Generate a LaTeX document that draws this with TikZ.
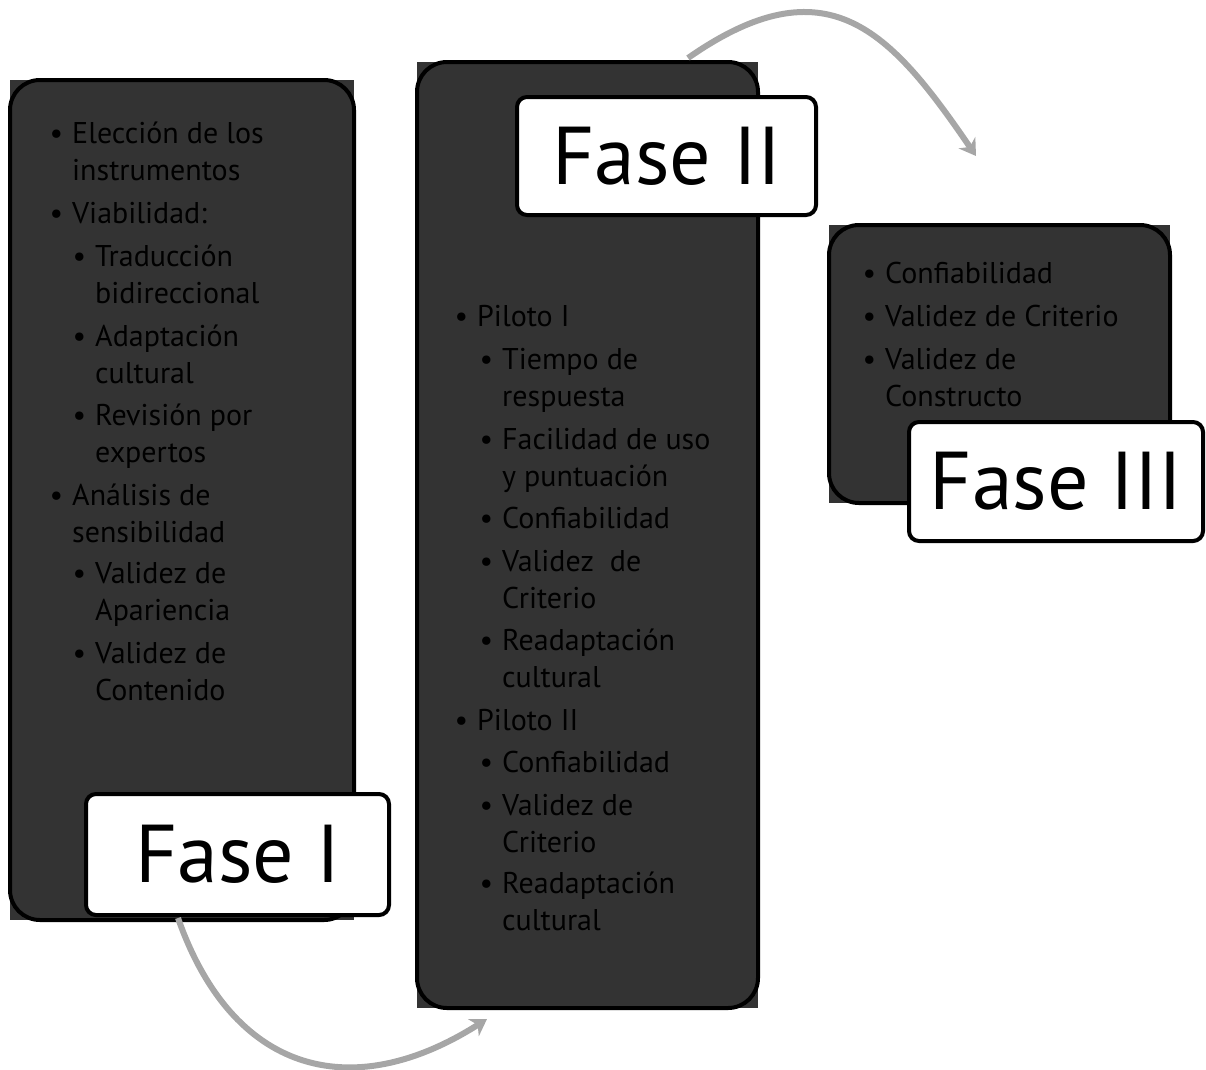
\documentclass[tikz,border=0pt]{standalone}
\usepackage{fontspec}
\setmainfont{PT Sans}
\usetikzlibrary{arrows.meta}
\definecolor{boxgray}{HTML}{333333}
\definecolor{arrowgray}{HTML}{A6A6A6}
\newcommand{\bul}{\llap{\textbullet\hspace{9pt}}}
\begin{document}
\begin{tikzpicture}[x=1pt,y=-1pt,
  phasebox/.style={draw=black, line width=4pt, fill=boxgray, rounded corners=30pt, inner sep=0pt},
  labelbox/.style={draw=black, line width=4pt, fill=white, rounded corners=10pt, inner sep=0pt,
    font=\fontsize{82}{82}\selectfont, text=black},
  item/.style={anchor=base west, inner sep=0pt, text=black, font=\fontsize{30}{37}\selectfont},
  flow/.style={draw=arrowgray, line width=6pt, -{Stealth[length=16pt,width=20pt,inset=5pt]}}]
\useasboundingbox (0,0) rectangle (1206,1069);
% Fase I box
\fill[boxgray] (10,80) rectangle (354,920);
\node[phasebox, minimum width=344pt, minimum height=840pt] (b1) at (182,500) {};
% Fase II box
\fill[boxgray] (417,62) rectangle (758,1008);
\node[phasebox, minimum width=341pt, minimum height=946pt] (b2) at (587.5,535) {};
% Fase III box
\fill[boxgray] (829,225) rectangle (1170,503);
\node[phasebox, minimum width=341pt, minimum height=278pt] (b3) at (999.5,364) {};
% Box 1 text
\node[item] (t1a) at (72,143) {\vtop{\hbox{\bul Elección de los}\hbox{instrumentos}}};
\node[item] (t1b) at (72,223) {\bul Viabilidad:};
\node[item] (t1c) at (95,266) {\vtop{\hbox{\bul Traducción}\hbox{bidireccional}}};
\node[item] (t1d) at (95,346) {\vtop{\hbox{\bul Adaptación}\hbox{cultural}}};
\node[item] (t1e) at (95,425) {\vtop{\hbox{\bul Revisión por}\hbox{expertos}}};
\node[item] (t1f) at (72,505) {\vtop{\hbox{\bul Análisis de}\hbox{sensibilidad}}};
\node[item] (t1g) at (95,583) {\vtop{\hbox{\bul Validez de}\hbox{Apariencia}}};
\node[item] (t1h) at (95,663) {\vtop{\hbox{\bul Validez de}\hbox{Contenido}}};
% Box 2 text
\node[item] (t2a) at (477,326) {\bul Piloto I};
\node[item] (t2b) at (502,369) {\vtop{\hbox{\bul Tiempo de}\hbox{respuesta}}};
\node[item] (t2c) at (502,449) {\vtop{\hbox{\bul Facilidad de uso}\hbox{y puntuación}}};
\node[item] (t2d) at (502,528) {\bul Confiabilidad};
\node[item] (t2e) at (502,571) {\vtop{\hbox{\bul Validez\ \ de}\hbox{Criterio}}};
\node[item] (t2f) at (502,650) {\vtop{\hbox{\bul Readaptación}\hbox{cultural}}};
\node[item] (t2g) at (477,730) {\bul Piloto II};
\node[item] (t2h) at (502,772) {\bul Confiabilidad};
\node[item] (t2i) at (502,815) {\vtop{\hbox{\bul Validez de}\hbox{Criterio}}};
\node[item] (t2j) at (502,893) {\vtop{\hbox{\bul Readaptación}\hbox{cultural}}};
% Box 3 text
\node[item] (t3a) at (885,283) {\bul Confiabilidad};
\node[item] (t3b) at (885,326) {\bul Validez de Criterio};
\node[item] (t3c) at (885,369) {\vtop{\hbox{\bul Validez de}\hbox{Constructo}}};
% Labels
\node[labelbox, minimum width=303pt, minimum height=121pt] (l1) at (237.5,854.5) {Fase I};
\node[labelbox, minimum width=299pt, minimum height=118pt] (l2) at (666.5,156) {Fase II};
\node[labelbox, minimum width=294pt, minimum height=119pt] (l3) at (1056,481.5) {Fase III};
% Arrows
\coordinate (a1s) at (178,918);
\coordinate (a1e) at (487,1019);
\coordinate (a2s) at (688,58);
\coordinate (a2e) at (976,156);
\draw[flow] (a1s) .. controls (232,1072) and (350,1106) .. (a1e);
\draw[flow] (a2s) .. controls (827,-39) and (890,30) .. (a2e);
\end{tikzpicture}
\end{document}
